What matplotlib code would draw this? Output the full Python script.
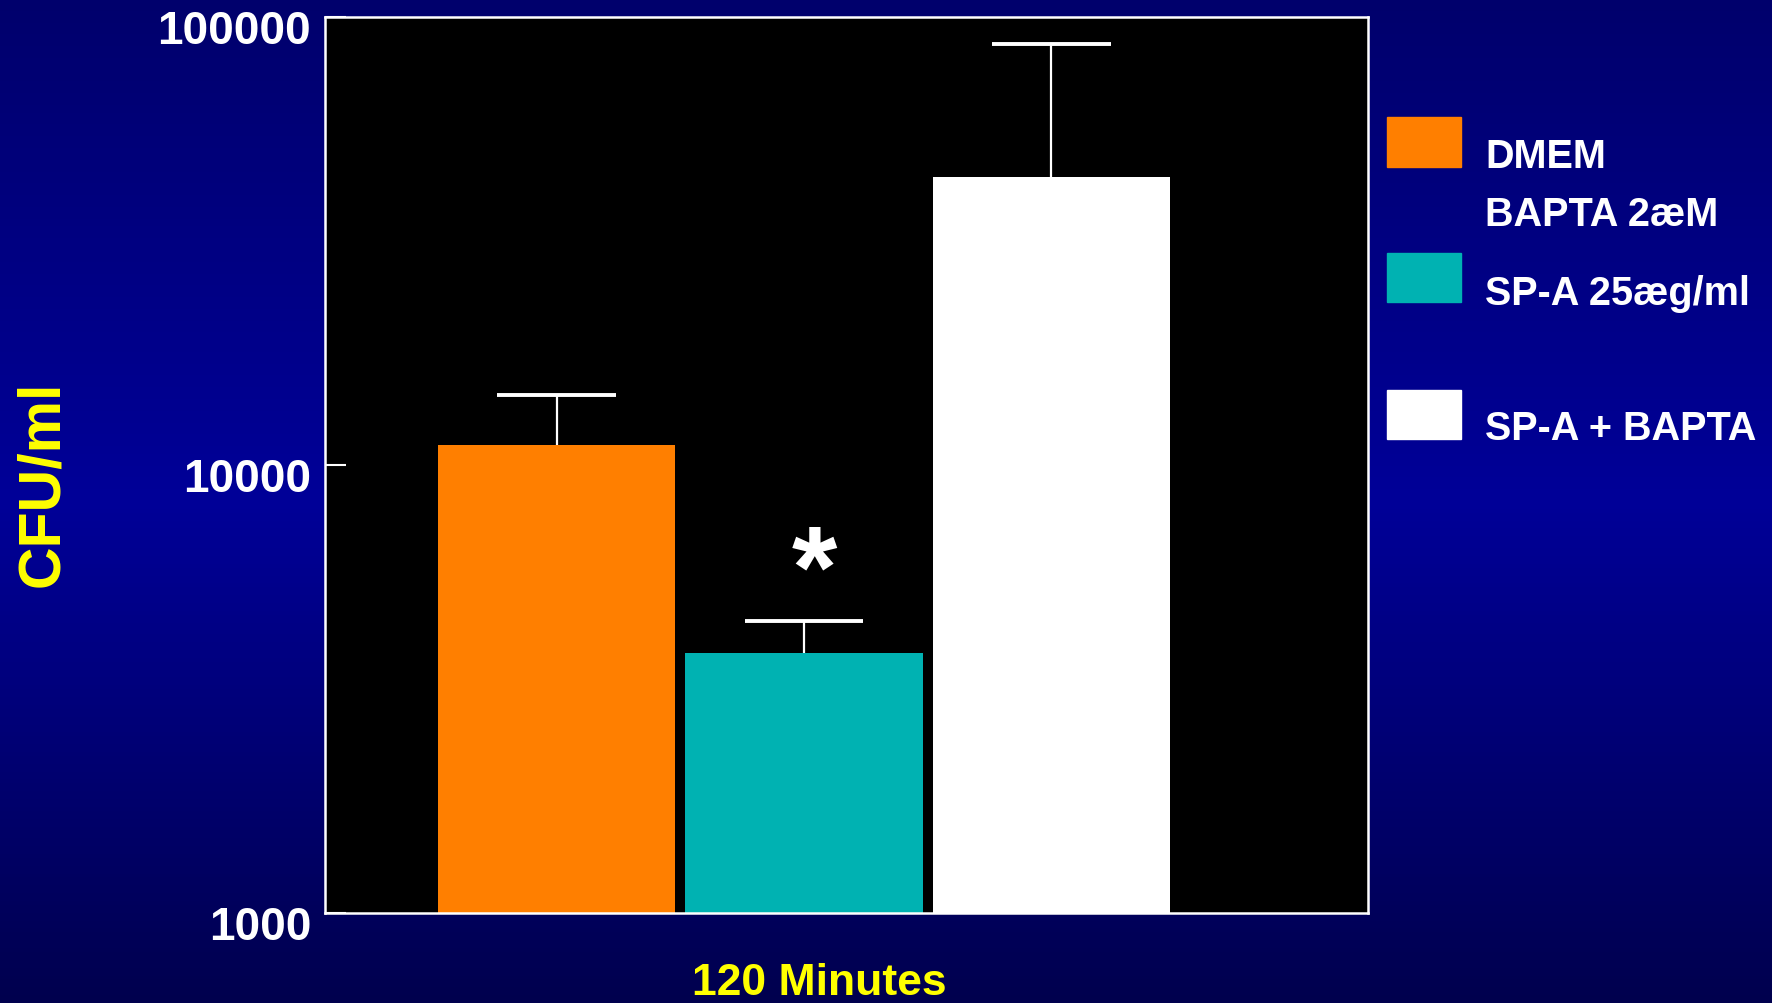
import numpy as np
import matplotlib
matplotlib.use("Agg")
import matplotlib.pyplot as plt
import matplotlib.transforms as mtransforms
from matplotlib.patches import Rectangle

groups = ["DMEM", "SP-A 25æg/ml", "SP-A + BAPTA"]
cfu = [11100, 3810, 44000]
cfu_err = [3200, 670, 43000]
bar_colors = ["#FF7F00", "#00B2B2", "#FFFFFF"]
legend_labels = ["DMEM\nBAPTA 2æM", "SP-A 25æg/ml", "SP-A + BAPTA"]
y_ticks = [1000, 10000, 100000]

plt.rcParams["font.family"] = ["Liberation Sans", "DejaVu Sans"]
plt.rcParams["font.weight"] = "bold"

fig = plt.figure(figsize=(17.72, 10.04), dpi=100)

# dark-blue slide background, brighter in the middle
bg = fig.add_axes([0, 0, 1, 1], zorder=-10)
t = np.linspace(0, 1, 256)
top = np.array([0, 0, 108]) / 255
mid = np.array([0, 0, 152]) / 255
bot = np.array([0, 0, 78]) / 255
col = np.where(t[:, None] < 0.5,
               top + (mid - top) * (t[:, None] / 0.5),
               mid + (bot - mid) * ((t[:, None] - 0.5) / 0.5))
bg.imshow(col[:, None, :], aspect="auto", extent=[0, 1, 0, 1])
bg.axis("off")

ax = fig.add_axes([0.1834, 0.0896, 0.5886, 0.8924])
ax.set_facecolor("black")
x = np.arange(len(groups))
ax.bar(x, cfu, width=0.96, color=bar_colors, zorder=2)

# upper error bars only: stem + top cap
err_top = np.array(cfu) + np.array(cfu_err)
ax.vlines(x, cfu, err_top, color="white", linewidth=1.6, zorder=1)
ax.hlines(err_top, x - 0.24, x + 0.24, color="white", linewidth=2.8, zorder=1)

ax.set_yscale("log")
ax.set_ylim(1000, 100000)
ax.set_xlim(-0.936, 3.279)
ax.set_yticks(y_ticks)
ax.set_yticklabels([str(v) for v in y_ticks])
ax.yaxis.set_minor_locator(matplotlib.ticker.NullLocator())
ax.set_xticks([])
ax.tick_params(axis="y", direction="in", length=15, width=1.5, color="white",
               labelcolor="white", labelsize=33, pad=10)
shift = mtransforms.ScaledTranslation(0, -0.09, fig.dpi_scale_trans)
for lbl in ax.get_yticklabels():
    lbl.set_transform(lbl.get_transform() + shift)
for s in ax.spines.values():
    s.set_color("white")
    s.set_linewidth(1.8)

ax.text(1.04, 5650, "*", color="white", fontsize=84, ha="center", va="center",
        fontweight="bold")

fig.text(0.024, 0.518, "CFU/ml", color="#FFFF00", fontsize=42.5, rotation=90,
         ha="center", va="center", fontweight="bold")
fig.text(0.4625, 0.020, "120 Minutes", color="#FFFF00", fontsize=32,
         ha="center", va="center", fontweight="bold")

# legend drawn by hand to match the slide layout
patch_y = [0.833, 0.698, 0.562]
for c, py in zip(bar_colors, patch_y):
    fig.patches.append(Rectangle((0.7827, py), 0.0418, 0.049, color=c,
                                 transform=fig.transFigure))
text_y = [0.8435, 0.7855, 0.7075, 0.5725]
legend_text = legend_labels[0].split("\n") + legend_labels[1:]
for txt, ty in zip(legend_text, text_y):
    fig.text(0.838, ty, txt, color="white", fontsize=28.5, va="center")

fig.savefig("out.png", dpi=100)
